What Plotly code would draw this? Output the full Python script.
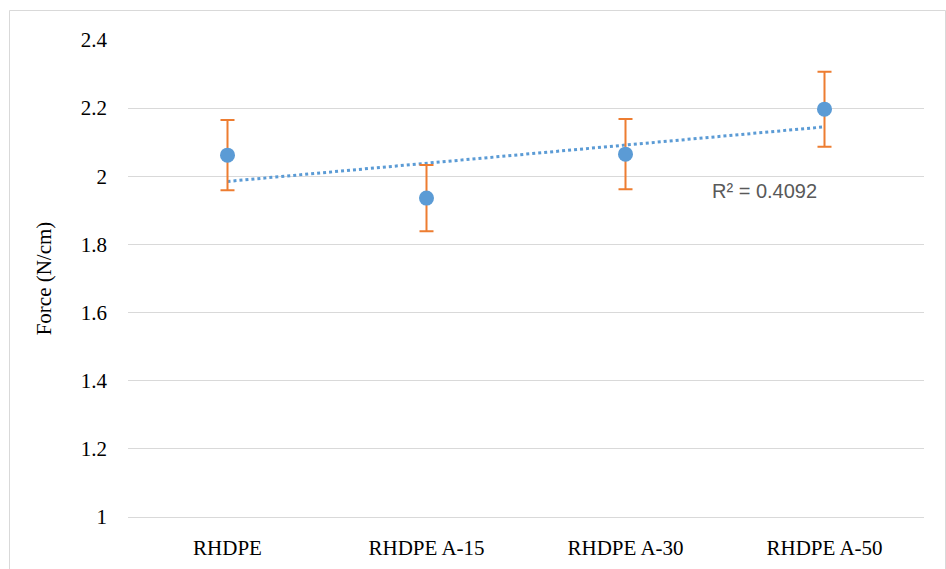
import numpy as np
import plotly.graph_objects as go

categories = ["RHDPE", "RHDPE A-15", "RHDPE A-30", "RHDPE A-50"]
force = [2.062, 1.936, 2.065, 2.197]
error = [0.103, 0.097, 0.103, 0.11]
r2_label = "R² = 0.4092"
y_ticks = [1, 1.2, 1.4, 1.6, 1.8, 2, 2.2, 2.4]

W, H = 946, 569
L, R, T, B = 128, 22, 40, 52
pw, ph = W - L - R, H - T - B

xi = np.arange(1, len(force) + 1)
slope, intercept = np.polyfit(xi, force, 1)
trend = slope * xi + intercept

fig = go.Figure()
fig.add_trace(go.Scatter(
    x=categories, y=trend, mode="lines",
    line=dict(color="#5B9BD5", width=3, dash="dot"),
    hoverinfo="skip", showlegend=False,
))
fig.add_trace(go.Scatter(
    x=categories, y=force, mode="markers",
    marker=dict(color="#5B9BD5", size=15),
    error_y=dict(type="data", array=error, visible=True,
                 color="#ED7D31", thickness=2, width=7),
    showlegend=False,
))

fig.add_annotation(
    x=2.7, y=1.957, xref="x", yref="y", text=r2_label, showarrow=False,
    xanchor="center", yanchor="middle",
    font=dict(family="Liberation Sans", size=20, color="#595959"),
)

# outer chart border
fig.add_shape(type="rect", xref="paper", yref="paper",
              x0=(9.5 - L) / pw, x1=(945.5 - L) / pw,
              y0=-(H - T + 20) / ph, y1=1 + (T - 10.5) / ph,
              line=dict(color="#D9D9D9", width=1), fillcolor="rgba(0,0,0,0)",
              layer="below")

fig.update_layout(
    width=W, height=H,
    margin=dict(l=L, r=R, t=T, b=B),
    paper_bgcolor="white", plot_bgcolor="white",
    font=dict(family="Liberation Serif", size=21, color="#000000"),
)
fig.update_xaxes(
    type="category", range=[-0.5, 3.5], automargin=False,
    showgrid=False, showline=True, linecolor="#D9D9D9", linewidth=1,
    ticks="", tickfont=dict(family="Liberation Serif", size=21),
    ticklabelstandoff=12, zeroline=False,
)
fig.update_yaxes(
    range=[1, 2.4], tickvals=y_ticks, ticktext=[f"{v:g}" for v in y_ticks],
    showgrid=True, gridcolor="#D9D9D9", gridwidth=1,
    zeroline=False, showline=False, ticks="",
    tickfont=dict(family="Liberation Serif", size=21),
    ticklabelstandoff=20,
    title=dict(text="Force (N/cm)", font=dict(family="Liberation Serif", size=21), standoff=23),
)

fig.write_html("out.html")
